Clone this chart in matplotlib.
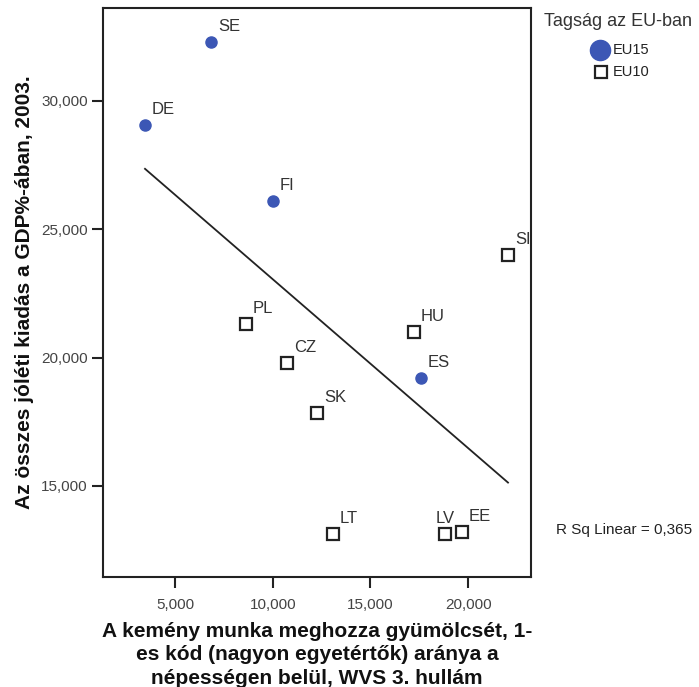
import numpy as np
import matplotlib
matplotlib.use("Agg")
import matplotlib.pyplot as plt
from matplotlib.lines import Line2D
from matplotlib.ticker import FuncFormatter

plt.rcParams['font.family'] = ['Liberation Sans', 'DejaVu Sans']

# Data
countries = ["SE", "DE", "FI", "ES", "SI", "PL", "HU", "CZ", "SK", "LT", "LV", "EE"]
groups    = ["EU15", "EU15", "EU15", "EU15", "EU10", "EU10", "EU10", "EU10", "EU10", "EU10", "EU10", "EU10"]
hard_work = [6842, 3465, 10016, 17590, 22043, 8634, 17232, 10732, 12268, 13087, 18819, 19689]
welfare   = [32300, 29065, 26103, 19205, 23999, 21310, 20998, 19790, 17842, 13126, 13126, 13204]
x_ticks = [5000, 10000, 15000, 20000]
y_ticks = [15000, 20000, 25000, 30000]
r2_text = "R Sq Linear = 0,365"

x = np.array(hard_work, dtype=float)
y = np.array(welfare, dtype=float)

fig = plt.figure(figsize=(6.99, 6.87), dpi=100)
ax = fig.add_axes([103/699, 1-577/687, 428/699, 569/687])

blue = '#3c57b5'
for xi, yi, g in zip(x, y, groups):
    if g == "EU15":
        ax.plot(xi, yi, 'o', ms=8, color=blue, mec=blue, zorder=3)
    else:
        ax.plot(xi, yi, 's', ms=8, mfc='white', mec='#222222', mew=1.6, zorder=3)

offsets = {"LV": (-7, 11)}
for c, xi, yi in zip(countries, x, y):
    dx, dy = offsets.get(c, (5, 11))
    ax.annotate(c, (xi, yi), xytext=(dx, dy), textcoords='offset points',
                ha='left', va='center', fontsize=12, color='#333333')

# regression line
b, a = np.polyfit(x, y, 1)
xs = np.array([x.min(), x.max()])
ax.plot(xs, a + b * xs, color='#222222', lw=1.3, zorder=2)

ax.set_xlim(1315, 23220)
ax.set_ylim(11450, 33624)
ax.set_xticks(x_ticks)
ax.set_yticks(y_ticks)
fmt = FuncFormatter(lambda v, p: f"{int(v):,}")
ax.xaxis.set_major_formatter(fmt)
ax.yaxis.set_major_formatter(fmt)
ax.tick_params(length=8, width=1.5, color='#222222', labelsize=11, labelcolor='#444444')
ax.tick_params(axis='x', pad=7)
ax.tick_params(axis='y', pad=3)
for s in ax.spines.values():
    s.set_linewidth(1.5)
    s.set_color('#222222')

ax.set_xlabel("A kemény munka meghozza gyümölcsét, 1-\nes kód (nagyon egyetértők) aránya a\nnépességen belül, WVS 3. hullám",
              fontsize=15, fontweight='bold', linespacing=1.3, labelpad=7, color='#111111')
ax.set_ylabel("Az összes jóléti kiadás a GDP%-ában, 2003.", fontsize=15,
              fontweight='bold', labelpad=5, color='#111111')

# legend (manual)
fig.text(618/699, 1-22/687, "Tagság az EU-ban", ha='center', va='center', fontsize=13, color='#333333')
fig.add_artist(Line2D([600/699], [1-50/687], marker='o', ms=14.5, color=blue, transform=fig.transFigure))
fig.add_artist(Line2D([601/699], [1-72/687], marker='s', ms=8, mfc='white', mec='#222222', mew=1.6,
                      transform=fig.transFigure))
fig.text(613/699, 1-50/687, "EU15", ha='left', va='center', fontsize=10.5, color='#222222')
fig.text(613/699, 1-72/687, "EU10", ha='left', va='center', fontsize=10.5, color='#222222')

fig.text(556/699, 1-530/687, r2_text, ha='left', va='center', fontsize=11, color='#222222')

fig.savefig("out.png", dpi=100)
